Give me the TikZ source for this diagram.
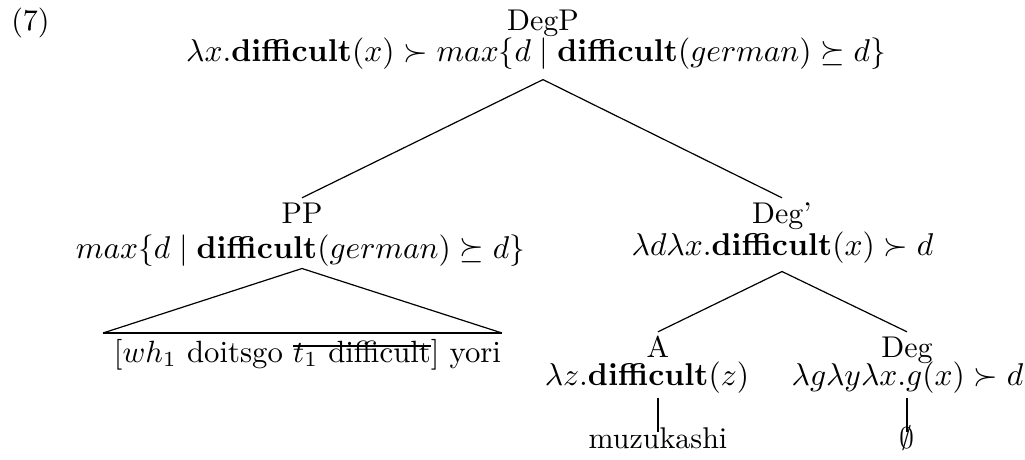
\documentclass[tikz,border=0pt]{standalone}
\usepackage{graphicx}
\newcommand\strk[1]{\setbox0=\hbox{#1}\rlap{\rule[4.9pt]{\wd0}{0.6pt}}\box0}
\newcommand\semtxt[1]{\scalebox{1.05}{#1}}
\begin{document}
\begin{tikzpicture}[x=0.33333pt,y=-0.33333pt,
  lab/.style={anchor=base,inner sep=0pt,text height=8.2pt,text depth=0pt},
  sem/.style={anchor=base,inner sep=0pt},
  branch/.style={line width=0.4pt},
  leaf/.style={anchor=base,inner sep=0pt,text height=5pt}]
\useasboundingbox (0,0) rectangle (1025,459);
\node[anchor=base,inner sep=0pt] (ex) at (30.5,30) {(7)};
% root
\node[lab] (DegP) at (543,30) {DegP};
\node[sem,text depth=6pt] (DegPs) at (536,61) {\semtxt{$\lambda x.\mathbf{difficult}(x) \succ max\{d \mid \mathbf{difficult}(german) \succeq d\}$}};
% PP
\node[lab] (PP) at (302,223) {PP};
\node[sem,text depth=3.3pt] (PPs) at (300.5,258) {\semtxt{$max\{d \mid \mathbf{difficult}(german) \succeq d\}$}};
\node[anchor=base,inner sep=0pt] (yori) at (307.5,362) {\scalebox{1.025}{[$wh_1$ doitsgo \strk{$t_1$ difficult}] yori}};
\coordinate (tl) at (103,333);
\coordinate (tr) at (502,333);
% Deg'
\node[lab] (Degb) at (782,223) {Deg'};
\node[sem,text depth=5.3pt] (Degbs) at (782.5,255) {\semtxt{$\lambda d\lambda x.\mathbf{difficult}(x) \succ d$}};
% A
\node[lab] (A) at (658,357) {A};
\node[sem,text depth=4pt] (As) at (647,385) {\semtxt{$\lambda z.\mathbf{difficult}(z)$}};
\node[leaf] (muz) at (658,448) {muzukashi};
% Deg
\node[lab] (Deg) at (907,357) {Deg};
\node[sem,text depth=4pt] (Degs) at (907.5,385) {\semtxt{$\lambda g\lambda y\lambda x.g(x) \succ d$}};
\node[leaf] (empty) at (907,448) {$\emptyset$};
% edges
\draw[branch] (DegPs.south -| DegP) -- (PP.north);
\draw[branch] (DegPs.south -| DegP) -- (Degb.north);
\draw[branch] (tl) -- (PPs.south -| PP) -- (tr);
\draw[line width=0.8pt] (tl) -- (tr);
\draw[branch] (Degbs.south -| Degb) -- (A.north);
\draw[branch] (Degbs.south -| Degb) -- (Deg.north);
\draw[branch] (As.south -| A) -- (muz.north);
\draw[branch] (Degs.south -| Deg) -- (empty.north);
\end{tikzpicture}
\end{document}
